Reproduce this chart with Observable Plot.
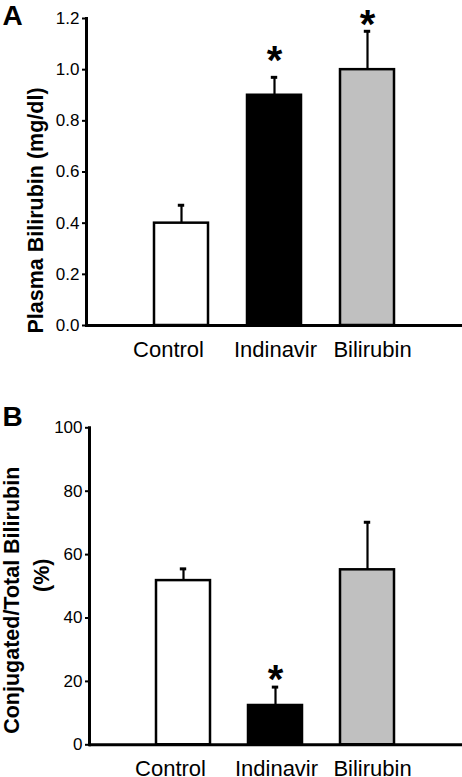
<!DOCTYPE html>
<html>
<head>
<meta charset="utf-8">
<script src="https://cdn.jsdelivr.net/npm/d3@7"></script>
<script src="https://cdn.jsdelivr.net/npm/@observablehq/plot@0.6"></script>
<style>
  body { margin: 0; background: #fff; }
  #chart { width: 462px; height: 777px; }
  #chart svg { display: block; }
</style>
</head>
<body>
<div id="chart"></div>
<script>
// ---- data ----
const groups = ["Control", "Indinavir", "Bilirubin"];
const groupFills = ["#ffffff", "#000000", "#c0c0c0"];

const plasmaMean = [0.40, 0.90, 1.00];
const plasmaSEM = [0.07, 0.07, 0.15];
const plasmaStar = [null, 1.07, 1.21];
const plasmaTicks = [0, 0.2, 0.4, 0.6, 0.8, 1.0, 1.2];

const conjMean = [51.8, 12.4, 55.2];
const conjSEM = [3.7, 5.8, 15.0];
const conjStar = [null, 23.4, null];
const conjTicks = [0, 20, 40, 60, 80, 100];

const titleA = "Plasma Bilirubin (mg/dl)";
const titleB1 = "Conjugated/Total Bilirubin";
const titleB2 = "(%)";

// layout only: horizontal nudge of each category label (px)
const labelShift = [-13, 1, 5];

const FONT = "'Liberation Sans', Arial, Helvetica, sans-serif";

function rows(means, sems, stars) {
  return groups.map((g, i) => ({group: g, mean: means[i], top: means[i] + sems[i], star: stars[i]}));
}

function panel({data, ticks, fmt, yMax, height, marginTop, marginBottom, marginLeft, xRange, letter, letterDx, letterDy, titles}) {
  const starData = data.filter(d => d.star != null);
  return Plot.plot({
    width: 462,
    height,
    marginTop,
    marginBottom,
    marginLeft,
    marginRight: 0,
    style: {fontFamily: FONT, color: "#000", background: "#fff", overflow: "visible"},
    x: {domain: groups, range: xRange, paddingInner: 0.414, paddingOuter: 0.207, axis: null},
    y: {domain: [0, yMax], axis: null},
    color: {domain: groups, range: groupFills},
    marks: [
      Plot.barY(data, {x: "group", y: "mean", fill: "group", stroke: "#000", strokeWidth: 2.5}),
      Plot.ruleX(data, {x: "group", y1: "mean", y2: "top", stroke: "#000", strokeWidth: 2.2}),
      Plot.tickY(data, {x: "group", y: "top", stroke: "#000", strokeWidth: 3, insetLeft: 23.8, insetRight: 23.8}),
      Plot.text(starData, {x: "group", y: "star", text: () => "*", fontSize: 40, fontWeight: "bold", lineAnchor: "bottom", dy: 22}),
      Plot.ruleY([0], {stroke: "#000", strokeWidth: 3}),
      Plot.frame({anchor: "left", stroke: "#000", strokeWidth: 3}),
      Plot.axisY({ticks, tickFormat: fmt, tickSize: 4, tickPadding: 3, fontSize: 17, strokeWidth: 2, label: null}),
      ...groups.map((g, i) => Plot.text([g], {x: d => d, frameAnchor: "bottom", lineAnchor: "bottom", dy: 31, dx: labelShift[i], fontSize: 22})),
      Plot.text([letter], {frameAnchor: "top-left", textAnchor: "start", lineAnchor: "bottom", dx: letterDx, dy: letterDy, fontSize: 28, fontWeight: "bold"}),
      ...titles.map(t => Plot.text([t.text], {frameAnchor: "left", textAnchor: "middle", lineAnchor: "middle", rotate: -90, dx: t.dx, dy: t.dy, fontSize: t.size, fontWeight: "bold"}))
    ]
  });
}

const chart = document.getElementById("chart");

chart.append(panel({
  data: rows(plasmaMean, plasmaSEM, plasmaStar),
  ticks: plasmaTicks,
  fmt: d3.format(".1f"),
  yMax: 1.2,
  height: 390,
  marginTop: 18,
  marginBottom: 65,
  marginLeft: 86,
  xRange: [134.3, 413.5],
  letter: "A",
  letterDx: -84,
  letterDy: 6,
  titles: [{text: titleA, dx: -50, dy: 38.5, size: 21.5}]
}));

chart.append(panel({
  data: rows(conjMean, conjSEM, conjStar),
  ticks: conjTicks,
  fmt: d3.format("d"),
  yMax: 100,
  height: 387,
  marginTop: 37.3,
  marginBottom: 32.7,
  marginLeft: 89,
  xRange: [135.4, 413.9],
  letter: "B",
  letterDx: -87,
  letterDy: -2,
  titles: [
    {text: titleB1, dx: -77, dy: 14, size: 21.5},
    {text: titleB2, dx: -47, dy: -11, size: 21.5}
  ]
}));
</script>
</body>
</html>
